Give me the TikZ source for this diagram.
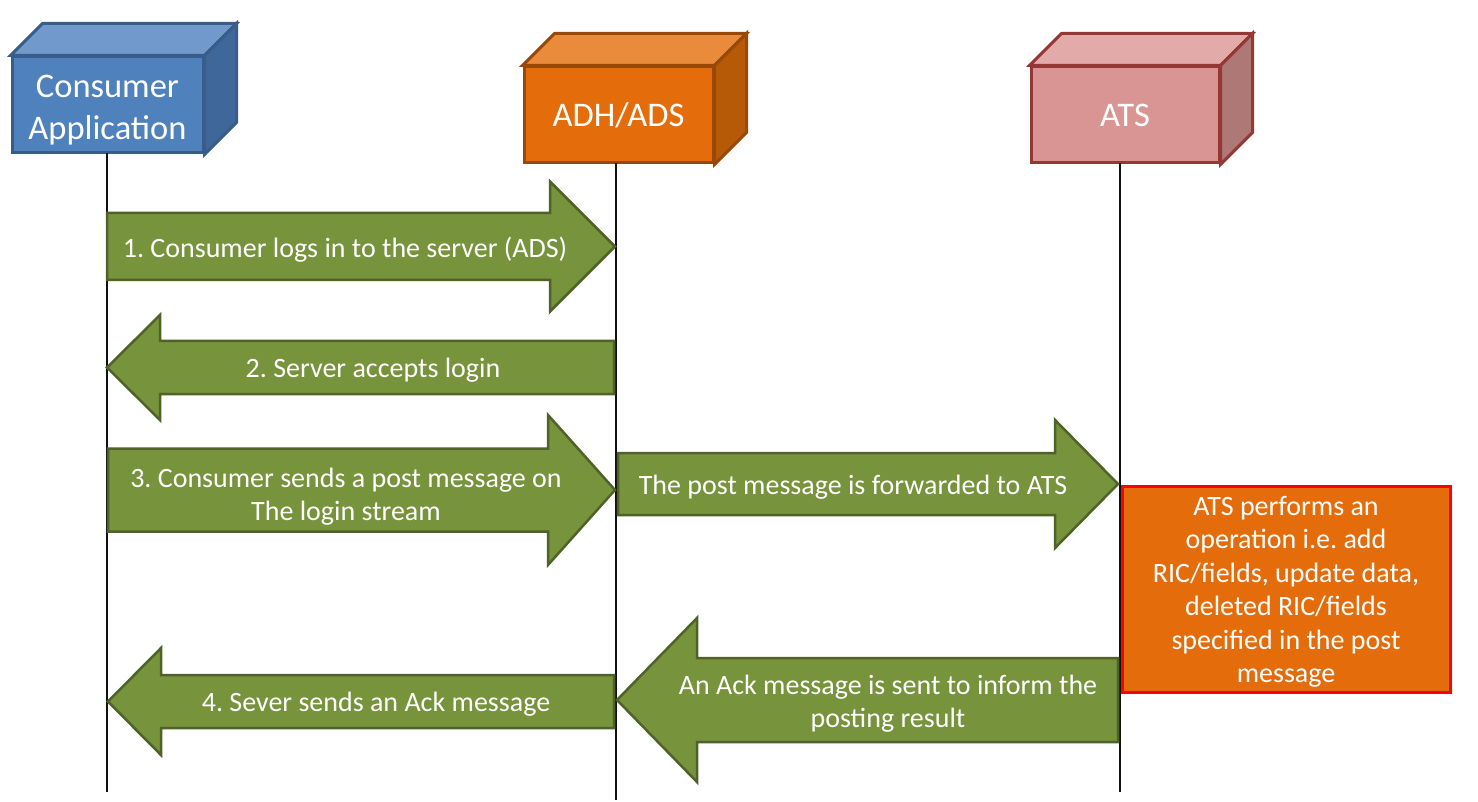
\documentclass[tikz,border=0pt]{standalone}
\usepackage{fontspec}
\setmainfont{Carlito}
\usetikzlibrary{calc}
\frenchspacing
\definecolor{gfill}{HTML}{77933C}
\definecolor{gline}{HTML}{4F6228}
\definecolor{bfront}{HTML}{4F81BD}
\definecolor{btop}{HTML}{7299CB}
\definecolor{bright}{HTML}{3F689A}
\definecolor{bline}{HTML}{385D8A}
\definecolor{ofront}{HTML}{E46C0A}
\definecolor{otop}{HTML}{EA8A3B}
\definecolor{oright}{HTML}{B75A08}
\definecolor{oline}{HTML}{984807}
\definecolor{pfront}{HTML}{D99594}
\definecolor{ptop}{HTML}{E2AAA9}
\definecolor{pright}{HTML}{AE7877}
\definecolor{pline}{HTML}{953735}
\definecolor{lifec}{HTML}{111111}
\tikzset{
  boxfront/.style={rectangle, draw=#1, line width=3pt, inner sep=0pt,
     text=white, align=center, font=\fontsize{34.5}{42}\selectfont},
  face/.style={line width=3pt, line join=miter},
  lifeline/.style={draw=lifec, line width=2pt},
  msg/.style={text=white, align=center, inner sep=0pt, font=\fontsize{28}{33.5}\selectfont},
  barrow/.style={fill=gfill, draw=gline, line width=2.5pt, line join=miter},
}
% tail x, tip x, center y, body half, head half, head base x
\newcommand\blockarrow[6]{%
  \path[barrow] ({#1},{#3-#4}) -- ({#6},{#3-#4}) -- ({#6},{#3-#5}) -- ({#2},{#3})
    -- ({#6},{#3+#5}) -- ({#6},{#3+#4}) -- ({#1},{#3+#4}) -- cycle;}
% node name, top colour, right colour, line colour
\newcommand\boxfaces[4]{%
  \filldraw[face, fill=#2, draw=#4] (#1.north west) -- ++(32,-32) -- ($(#1.north east)+(32,-32)$) -- (#1.north east) -- cycle;
  \filldraw[face, fill=#3, draw=#4] (#1.north east) -- ++(32,-32) -- ($(#1.south east)+(32,-32)$) -- (#1.south east) -- cycle;}
\begin{document}
\begin{tikzpicture}[x=1pt, y=-1pt]
\useasboundingbox (0,0) rectangle (1478,802);
\fill[white] (0,0) rectangle (1478,802);

% participant boxes
\node[boxfront=bline, fill=bfront, minimum width=191pt, minimum height=96pt] (cons) at (107.5,105) {};
\node[text=white, align=center, inner sep=0pt, font=\fontsize{34.5}{42}\selectfont] (constext) at (107.5,110) {Consumer\\Application};
\boxfaces{cons}{btop}{bright}{bline}
\node[boxfront=oline, fill=ofront, minimum width=189pt, minimum height=96pt] (adh) at (618.5,115) {\raisebox{-2pt}{ADH/ADS}};
\boxfaces{adh}{otop}{oright}{oline}
\node[boxfront=pline, fill=pfront, minimum width=188pt, minimum height=96pt] (ats) at (1125,115) {\raisebox{-2pt}{ATS}};
\boxfaces{ats}{ptop}{pright}{pline}

% lifelines
\coordinate (consT) at (107,153);
\coordinate (consB) at (107,792);
\coordinate (adhT) at (616,163);
\coordinate (adhB) at (616,800);
\coordinate (atsT) at (1120,163);
\coordinate (atsB) at (1120,792);
\draw[lifeline] (consT) -- (consB);
\draw[lifeline] (adhT) -- (adhB);
\draw[lifeline] (atsT) -- (atsB);

% block arrows
\blockarrow{107}{615}{246.5}{33.5}{65}{550}
\node[msg] (m1) at (345,249.5) {1. Consumer logs in to the server (ADS)};

\blockarrow{614}{107}{367.5}{26.5}{52.5}{160}
\node[msg] (m2) at (373,370.5) {2. Server accepts login};

\blockarrow{108}{615}{490}{41.5}{75}{548}
\node[msg] (m3) at (346,496.5) {3. Consumer sends a post message on\\The login stream};

\blockarrow{618}{1118}{484}{31}{64}{1055}
\node[msg] (m3b) at (853,487.5) {The post message is forwarded to ATS};

\blockarrow{1118}{617}{700}{42}{82}{697}
\node[msg] (m4a) at (888,703.5) {An Ack message is sent to inform the\\posting result};

\blockarrow{614}{108}{701.5}{26.5}{53.5}{161}
\node[msg] (m4b) at (376,704.5) {4. Sever sends an Ack message};

% ATS operation box
\node[draw=red, fill=ofront, line width=3pt, minimum width=328pt, minimum height=206pt, inner sep=0pt] (op) at (1286,589) {};
\node[msg] (optext) at (1286,592) {ATS performs an\\operation i.e. add\\RIC/fields, update data,\\deleted RIC/fields\\specified in the post\\message};
\end{tikzpicture}
\end{document}
